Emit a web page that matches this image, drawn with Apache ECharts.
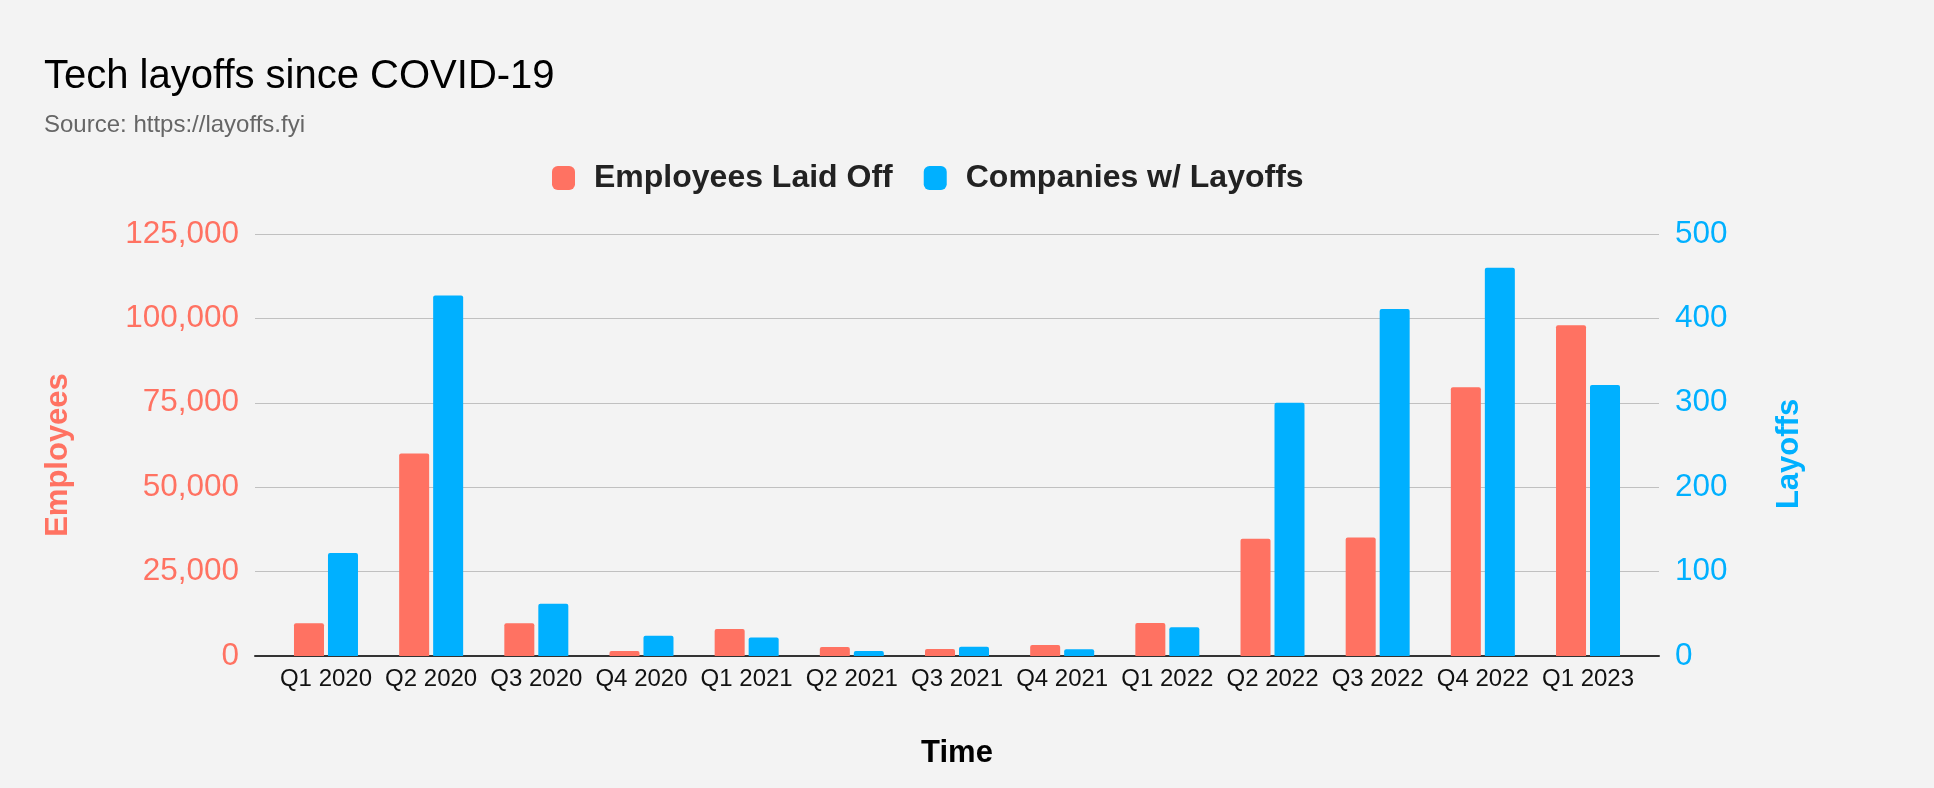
<!DOCTYPE html>
<html>
<head>
<meta charset="utf-8">
<script src="https://cdn.jsdelivr.net/npm/echarts@6/dist/echarts.min.js"></script>
<style>
html,body{margin:0;padding:0;background:#f3f3f3;}
#chart{width:1934px;height:788px;}
</style>
</head>
<body>
<div id="chart"></div>
<script>
var categories = ['Q1 2020','Q2 2020','Q3 2020','Q4 2020','Q1 2021','Q2 2021','Q3 2021','Q4 2021','Q1 2022','Q2 2022','Q3 2022','Q4 2022','Q1 2023'];
var employeesLaidOff = [9700, 60000, 9700, 1500, 8000, 2650, 2070, 3260, 9800, 34700, 35100, 79600, 98000];
var companiesWithLayoffs = [122, 427, 62, 24, 22, 6, 11, 8, 34, 300, 411, 460, 321];

var FONT = '"Liberation Sans", Arial, Helvetica, sans-serif';
var RED = '#ff7262';
var BLUE = '#00b0ff';

var chart = echarts.init(document.getElementById('chart'));
chart.setOption({
  backgroundColor: '#f3f3f3',
  animation: false,
  textStyle: {fontFamily: FONT},
  title: [
    {text: 'Tech layoffs since COVID-19', left: 39, top: 52,
     textStyle: {fontFamily: FONT, fontSize: 40, fontWeight: 'normal', color: '#000', lineHeight: 40}},
    {text: 'Source: https://layoffs.fyi', left: 39, top: 108,
     textStyle: {fontFamily: FONT, fontSize: 24, fontWeight: 'normal', color: '#666', lineHeight: 24}}
  ],
  legend: {
    left: 547, top: 157,
    itemWidth: 23, itemHeight: 24, itemGap: 31,
    icon: 'roundRect',
    textStyle: {fontFamily: FONT, fontSize: 32, fontWeight: 'bold', color: '#222', padding: [0,0,0,14]},
    data: ['Employees Laid Off', 'Companies w/ Layoffs']
  },
  grid: [
    {left: 255, right: 275, top: 234, bottom: 132},
    {left: 273.4, right: 293.4, top: 234, bottom: 132}
  ],
  xAxis: [
    {type: 'value', gridIndex: 0, min: 0, max: 1,
     axisLine: {show: true, onZero: false, lineStyle: {color: '#333', width: 2}},
     axisTick: {show: false}, axisLabel: {show: false}, splitLine: {show: false}},
    {type: 'category', gridIndex: 1, data: categories,
     axisLine: {show: false}, axisTick: {show: false},
     axisLabel: {interval: 0, fontFamily: FONT, fontSize: 24, color: '#111', margin: 11},
     name: 'Time', nameLocation: 'middle', nameGap: 82,
     nameTextStyle: {fontFamily: FONT, fontSize: 31, fontWeight: 'bold', color: '#000'}}
  ],
  yAxis: [
    {type: 'value', gridIndex: 0, position: 'left', min: 0, max: 125000, interval: 25000,
     axisLine: {show: false}, axisTick: {show: false},
     axisLabel: {fontFamily: FONT, fontSize: 31.5, color: RED, margin: 16,
       formatter: function (v) { return v.toLocaleString('en-US'); }},
     splitLine: {show: true, lineStyle: {color: '#c0c0c0', width: 1}},
     name: 'Employees', nameLocation: 'middle', nameGap: 181, nameRotate: 90,
     nameTextStyle: {fontFamily: FONT, fontSize: 31, fontWeight: 'bold', color: RED, padding: [0, 20, 0, 0]}},
    {type: 'value', gridIndex: 0, position: 'right', min: 0, max: 500, interval: 100,
     axisLine: {show: false}, axisTick: {show: false},
     axisLabel: {fontFamily: FONT, fontSize: 31.5, color: BLUE, margin: 16},
     splitLine: {show: false},
     name: 'Layoffs', nameLocation: 'middle', nameGap: 115, nameRotate: 90,
     nameTextStyle: {fontFamily: FONT, fontSize: 31, fontWeight: 'bold', color: BLUE, padding: [0, 18, 0, 0]}},
    {type: 'value', gridIndex: 1, min: 0, max: 125000, show: false},
    {type: 'value', gridIndex: 1, min: 0, max: 500, show: false}
  ],
  series: [
    {name: 'Employees Laid Off', type: 'bar', xAxisIndex: 1, yAxisIndex: 2,
     data: employeesLaidOff, barWidth: 30, barGap: '13.3%',
     itemStyle: {color: RED, borderRadius: [2,2,0,0]}},
    {name: 'Companies w/ Layoffs', type: 'bar', xAxisIndex: 1, yAxisIndex: 3,
     data: companiesWithLayoffs, barWidth: 30, barGap: '13.3%',
     itemStyle: {color: BLUE, borderRadius: [2,2,0,0]}}
  ]
});
</script>
</body>
</html>
